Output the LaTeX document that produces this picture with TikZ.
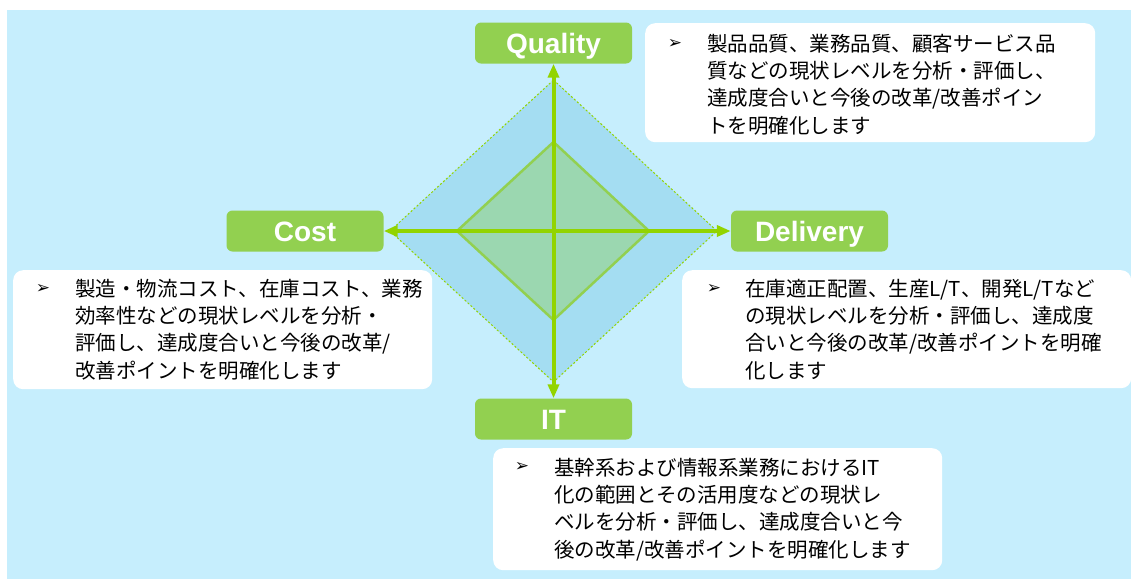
\documentclass[tikz,border=0pt]{standalone}
\usepackage{fontspec}
\setmainfont{Liberation Sans}
\newfontfamily\jp{Noto Sans CJK JP}
\newfontfamily\dv{DejaVu Sans}
\usetikzlibrary{arrows.meta}
\definecolor{bgblue}{HTML}{C6EEFD}
\definecolor{outerfill}{HTML}{A4DDF2}
\definecolor{innerfill}{HTML}{9BD7B0}
\definecolor{labgreen}{HTML}{92D050}
\definecolor{axisgreen}{HTML}{92D400}
\definecolor{innerline}{HTML}{92D050}
\tikzset{
  lab/.style={fill=labgreen, rounded corners=6pt, minimum width=157pt, minimum height=41pt,
    inner sep=0pt, text height=20pt, text depth=0pt, text=white, font=\fontsize{28}{30}\selectfont\bfseries},
  descbox/.style={fill=white, rounded corners=10pt, anchor=north west, inner sep=0pt},
  desctext/.style={anchor=north west, inner sep=0pt, align=left, text=black,
    font=\jp\fontsize{20.5}{27.2}\selectfont},
  bul/.style={inner sep=0pt, font=\dv\fontsize{17}{17}\selectfont},
  axisarrow/.style={draw=axisgreen, line width=4pt, {Triangle[length=14pt,width=11pt]}-{Triangle[length=14pt,width=11pt]}}
}
\begin{document}
\begin{tikzpicture}[x=1pt,y=-1pt]
\useasboundingbox (0,0) rectangle (1131,579);
\fill[bgblue] (7,10) rectangle (1131,579);
% outer diamond
\coordinate (ot) at (553.5,80);
\coordinate (or) at (717,231);
\coordinate (ob) at (553.5,382);
\coordinate (ol) at (390,231);
\fill[outerfill] (ot) -- (or) -- (ob) -- (ol) -- cycle;
\draw[axisgreen, line width=1pt, dash pattern=on 2pt off 2pt] (ot) -- (or) -- (ob) -- (ol) -- cycle;
% inner diamond
\coordinate (it1) at (553.5,142);
\coordinate (ir) at (649,231);
\coordinate (ib) at (553.5,320);
\coordinate (il) at (457,231);
\draw[innerline, fill=innerfill, line width=2.5pt, line join=miter] (it1) -- (ir) -- (ib) -- (il) -- cycle;
% labels
\node[lab] (q) at (553.5,43) {Quality};
\node[lab] (cost) at (305,231) {Cost};
\node[lab] (del) at (809.5,231) {Delivery};
\node[lab] (it) at (553.5,419) {IT};
% axes
\draw[axisarrow] (it.north) -- (q.south);
\draw[axisarrow] (cost.east) -- (del.west);
% description boxes
\node[descbox, minimum width=450pt, minimum height=119pt] (qbox) at (645,23) {};
\node[bul] (qbul) at (675,44) {➢};
\node[desctext] (qtext) at (707,34) {製品品質、業務品質、顧客サービス品\\質などの現状レベルを分析・評価し、\\達成度合いと今後の改革/改善ポイン\\トを明確化します};

\node[descbox, minimum width=419pt, minimum height=119pt] (cbox) at (13,270) {};
\node[bul] (cbul) at (43,289) {➢};
\node[desctext] (ctext) at (75,279) {製造・物流コスト、在庫コスト、業務\\効率性などの現状レベルを分析・\\評価し、達成度合いと今後の改革/\\改善ポイントを明確化します};

\node[descbox, minimum width=449pt, minimum height=118pt] (dbox) at (682,270) {};
\node[bul] (dbul) at (714,289) {➢};
\node[desctext] (dtext) at (745,279) {在庫適正配置、生産L/T、開発L/Tなど\\の現状レベルを分析・評価し、達成度\\合いと今後の改革/改善ポイントを明確\\化します};

\node[descbox, minimum width=449pt, minimum height=122pt] (ibox) at (493,448) {};
\node[bul] (ibul) at (522,467) {➢};
\node[desctext] (itext) at (554,458) {基幹系および情報系業務におけるIT\\化の範囲とその活用度などの現状レ\\ベルを分析・評価し、達成度合いと今\\後の改革/改善ポイントを明確化します};
\end{tikzpicture}
\end{document}
